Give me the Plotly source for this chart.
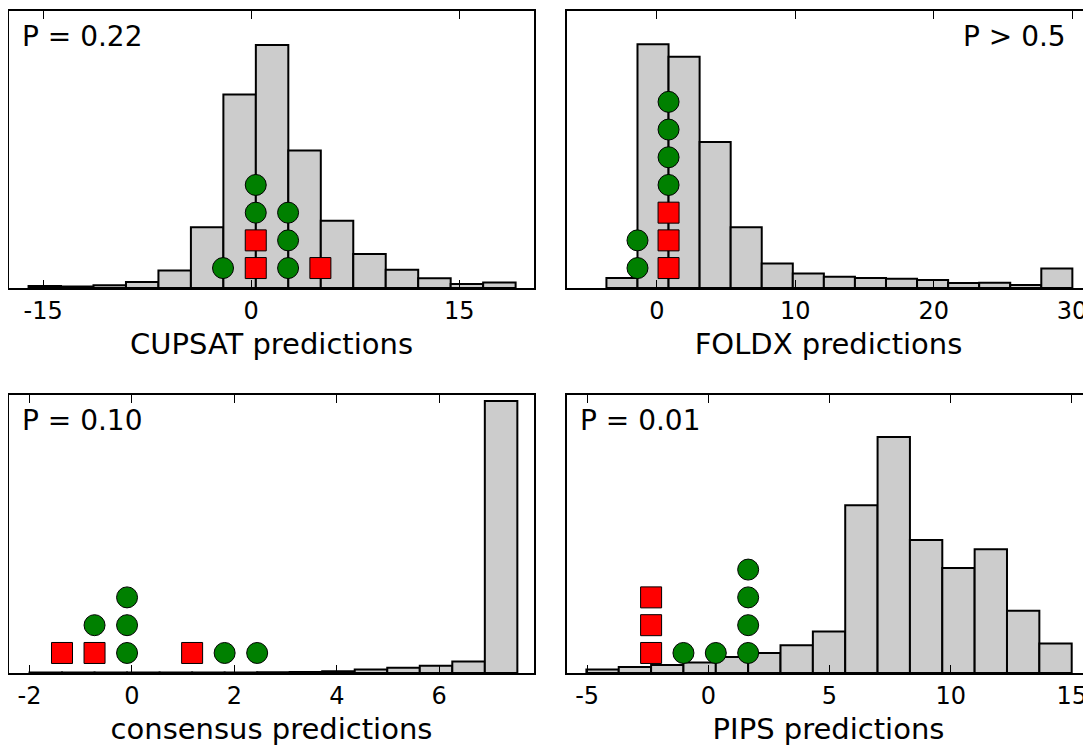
import plotly.graph_objects as go

FONT = "DejaVu Sans"
BAR_FILL = "#cccccc"
GREEN = "#008000"
RED = "#ff0000"

# ---------------- data ----------------
# CUPSAT
cupsat_bin_start = -16.05
cupsat_bin_width = 2.341
cupsat_heights = [0.007, 0.005, 0.010, 0.022, 0.063, 0.219, 0.699, 0.877,
                  0.496, 0.243, 0.123, 0.066, 0.035, 0.014, 0.020]
cupsat_red_x = [0.33, 0.33, 4.99]
cupsat_red_level = [1, 2, 1]
cupsat_green_x = [-2.03, 0.33, 0.33, 2.66, 2.66, 2.66]
cupsat_green_level = [1, 3, 4, 1, 2, 3]
cupsat_ticks = [-15, 0, 15]
cupsat_ticklabels = ["-15", "0", "15"]
cupsat_range = [-17.46, 20.39]
cupsat_p = "P = 0.22"

# FOLDX
foldx_bin_start = -3.65
foldx_bin_width = 2.245
foldx_heights = [0.036, 0.880, 0.835, 0.527, 0.219, 0.088, 0.052, 0.041,
                 0.036, 0.033, 0.029, 0.018, 0.019, 0.011, 0.070]
foldx_red_x = [0.84, 0.84, 0.84]
foldx_red_level = [1, 2, 3]
foldx_green_x = [-1.405, -1.405, 0.84, 0.84, 0.84, 0.84]
foldx_green_level = [1, 2, 4, 5, 6, 7]
foldx_ticks = [0, 10, 20, 30]
foldx_ticklabels = ["0", "10", "20", "30"]
foldx_range = [-6.5, 31.3]
foldx_p = "P > 0.5"

# consensus
cons_bin_start = -2.0
cons_bin_width = 0.635
cons_heights = [0.002, 0.002, 0.002, 0.002, 0.002, 0.002, 0.002, 0.003,
                0.004, 0.006, 0.013, 0.019, 0.026, 0.041, 0.978]
cons_red_x = [-1.365, -0.73, 1.175]
cons_red_level = [1, 1, 1]
cons_green_x = [-0.73, -0.095, -0.095, -0.095, 1.81, 2.445]
cons_green_level = [2, 1, 2, 3, 1, 1]
cons_ticks = [-2, 0, 2, 4, 6]
cons_ticklabels = ["-2", "0", "2", "4", "6"]
cons_range = [-2.40, 7.85]
cons_p = "P = 0.10"

# PIPS
pips_bin_start = -5.03
pips_bin_width = 1.335
pips_heights = [0.013, 0.022, 0.029, 0.038, 0.058, 0.072, 0.100, 0.149,
                0.603, 0.849, 0.478, 0.378, 0.445, 0.224, 0.106]
pips_red_x = [-2.36, -2.36, -2.36]
pips_red_level = [1, 2, 3]
pips_green_x = [-1.025, 0.31, 1.645, 1.645, 1.645, 1.645]
pips_green_level = [1, 1, 1, 2, 3, 4]
pips_ticks = [-5, 0, 5, 10, 15]
pips_ticklabels = ["-5", "0", "5", "10", "15"]
pips_range = [-5.83, 15.75]
pips_p = "P = 0.01"

panels = [
    dict(title="CUPSAT predictions", start=cupsat_bin_start, width=cupsat_bin_width,
         heights=cupsat_heights, rx=cupsat_red_x, rl=cupsat_red_level,
         gx=cupsat_green_x, gl=cupsat_green_level, ticks=cupsat_ticks,
         ticklabels=cupsat_ticklabels, xr=cupsat_range, p=cupsat_p, pright=False),
    dict(title="FOLDX predictions", start=foldx_bin_start, width=foldx_bin_width,
         heights=foldx_heights, rx=foldx_red_x, rl=foldx_red_level,
         gx=foldx_green_x, gl=foldx_green_level, ticks=foldx_ticks,
         ticklabels=foldx_ticklabels, xr=foldx_range, p=foldx_p, pright=True),
    dict(title="consensus predictions", start=cons_bin_start, width=cons_bin_width,
         heights=cons_heights, rx=cons_red_x, rl=cons_red_level,
         gx=cons_green_x, gl=cons_green_level, ticks=cons_ticks,
         ticklabels=cons_ticklabels, xr=cons_range, p=cons_p, pright=False),
    dict(title="PIPS predictions", start=pips_bin_start, width=pips_bin_width,
         heights=pips_heights, rx=pips_red_x, rl=pips_red_level,
         gx=pips_green_x, gl=pips_green_level, ticks=pips_ticks,
         ticklabels=pips_ticklabels, xr=pips_range, p=pips_p, pright=False),
]

# ---------------- layout geometry ----------------
PAGE_OFFSET = 8  # default body margin of the html page
W, H = 1091 - PAGE_OFFSET, 746 - PAGE_OFFSET
col_px = [(9, 534), (567, 1090)]
row_px = [(11, 288), (395, 673)]
LEVEL_RANGE = [0.28, 10.28]

fig = go.Figure()
layout = dict(
    width=W, height=H,
    margin=dict(l=0, r=0, t=0, b=0),
    paper_bgcolor="white", plot_bgcolor="white",
    showlegend=False,
    font=dict(family=FONT, color="black"),
    annotations=[],
)

for i, p in enumerate(panels):
    n = i + 1
    r, c = divmod(i, 2)
    xname = "xaxis" if n == 1 else f"xaxis{n}"
    yname = "yaxis" if n == 1 else f"yaxis{n}"
    xref = "x" if n == 1 else f"x{n}"
    yref = "y" if n == 1 else f"y{n}"
    ov = n + 4
    ovname = f"yaxis{ov}"
    ovref = f"y{ov}"

    x0, x1 = (v - PAGE_OFFSET for v in col_px[c])
    y0, y1 = (v - PAGE_OFFSET for v in row_px[r])
    xdom = [x0 / W, min(x1 / W, 1.0)]
    ydom = [1 - y1 / H, 1 - y0 / H]

    centers = [p["start"] + p["width"] * (k + 0.5) for k in range(len(p["heights"]))]
    fig.add_trace(go.Bar(
        x=centers, y=p["heights"], width=p["width"],
        marker=dict(color=BAR_FILL, line=dict(color="black", width=2)),
        xaxis=xref, yaxis=yref, hoverinfo="skip",
    ))
    fig.add_trace(go.Scatter(
        x=p["rx"], y=p["rl"], mode="markers",
        marker=dict(symbol="square", size=21, color=RED,
                    line=dict(color="black", width=1)),
        xaxis=xref, yaxis=ovref, cliponaxis=False,
    ))
    fig.add_trace(go.Scatter(
        x=p["gx"], y=p["gl"], mode="markers",
        marker=dict(symbol="circle", size=21, color=GREEN,
                    line=dict(color="black", width=1)),
        xaxis=xref, yaxis=ovref, cliponaxis=False,
    ))

    layout[xname] = dict(
        domain=xdom, anchor=yref, range=p["xr"],
        tickmode="array", tickvals=p["ticks"], ticktext=p["ticklabels"],
        ticks="inside", ticklen=8, tickwidth=1, tickcolor="black",
        showline=True, linecolor="black", linewidth=2, mirror="ticks",
        showgrid=False, zeroline=False,
        tickfont=dict(family=FONT, size=24, color="black"),
        title=dict(text=p["title"], font=dict(family=FONT, size=29, color="black"),
                   standoff=10),
    )
    layout[yname] = dict(
        domain=ydom, anchor=xref, range=[0, 1],
        showline=True, linecolor="black", linewidth=2, mirror=True,
        ticks="", showticklabels=False, showgrid=False, zeroline=False,
    )
    layout[ovname] = dict(
        overlaying=yref, anchor=xref, range=LEVEL_RANGE, visible=False,
        showgrid=False, zeroline=False,
    )
    if p["pright"]:
        ann = dict(x=1, xanchor="right", xshift=-22)
    else:
        ann = dict(x=0, xanchor="left", xshift=11)
    ann.update(dict(
        text=p["p"], xref=f"{xref} domain", yref=f"{yref} domain",
        y=1, yanchor="top", yshift=-7, showarrow=False,
        font=dict(family=FONT, size=28, color="black"),
    ))
    layout["annotations"].append(ann)

fig.update_layout(**layout)
fig.write_html("out.html")
